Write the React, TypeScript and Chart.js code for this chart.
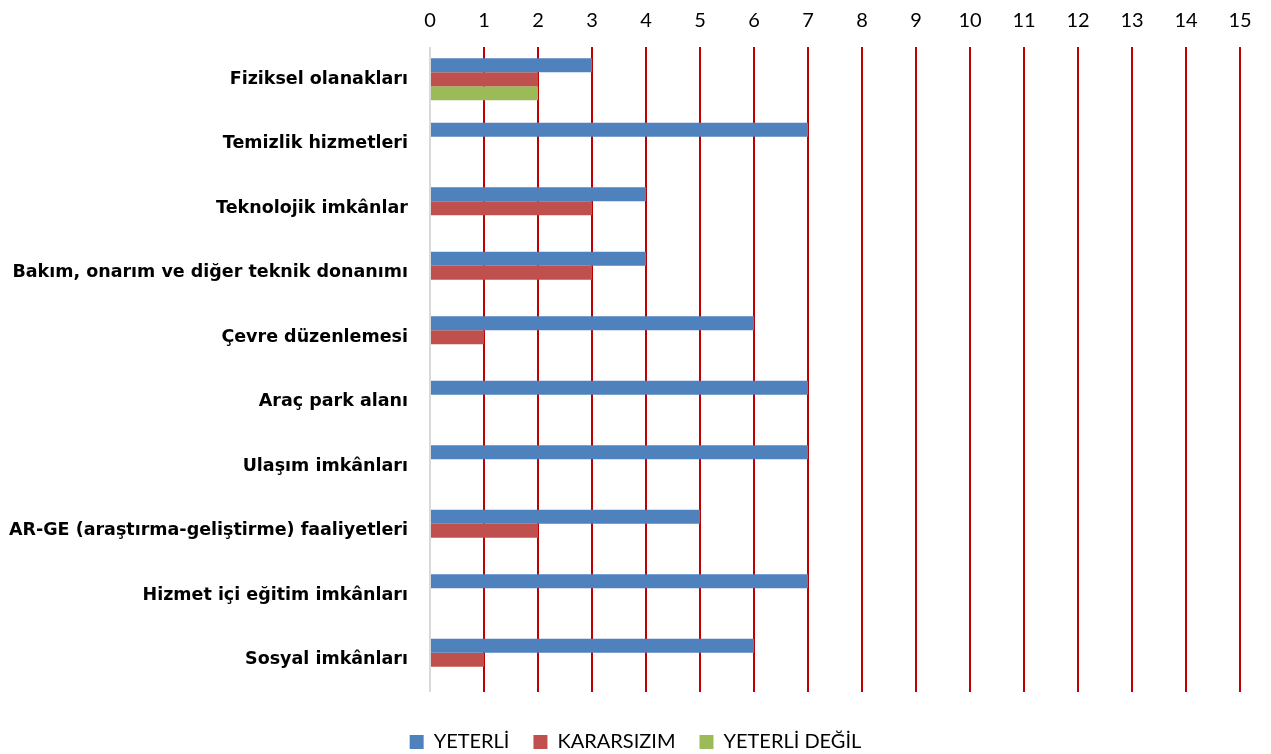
import React, { useEffect, useRef } from "react";
import { Chart, registerables } from "chart.js";

Chart.register(...registerables);

const categories = [
  "Fiziksel olanakları",
  "Temizlik hizmetleri",
  "Teknolojik imkânlar",
  "Bakım, onarım ve diğer teknik donanımı",
  "Çevre düzenlemesi",
  "Araç park alanı",
  "Ulaşım imkânları",
  "AR-GE (araştırma-geliştirme) faaliyetleri",
  "Hizmet içi eğitim imkânları",
  "Sosyal imkânları",
];
const yeterli = [3, 7, 4, 4, 6, 7, 7, 5, 7, 6];
const kararsizim = [2, 0, 3, 3, 1, 0, 0, 2, 0, 1];
const yeterliDegil = [2, 0, 0, 0, 0, 0, 0, 0, 0, 0];
const seriesNames = ["YETERLİ", "KARARSIZIM", "YETERLİ DEĞİL"];
const xMin = 0;
const xMax = 15;

export default function App() {
  const ref = useRef<HTMLCanvasElement | null>(null);
  useEffect(() => {
    document.body.style.margin = "0";
    const ctx = ref.current!;
    const font = "Lato, 'Open Sans', sans-serif";
    const chart = new Chart(ctx, {
      type: "bar",
      data: {
        labels: categories,
        datasets: [
          { label: seriesNames[0], data: yeterli, backgroundColor: "#4F81BD" },
          { label: seriesNames[1], data: kararsizim, backgroundColor: "#C0504D" },
          { label: seriesNames[2], data: yeterliDegil, backgroundColor: "#9BBB59" },
        ],
      },
      options: {
        indexAxis: "y",
        animation: false,
        responsive: false,
        maintainAspectRatio: false,
        datasets: { bar: { categoryPercentage: 0.65, barPercentage: 1, borderWidth: 0 } },
        layout: { padding: { left: 0, right: 0, top: 0, bottom: -8 } },
        scales: {
          x: {
            position: "top",
            min: xMin,
            max: xMax,
            ticks: { stepSize: 1, color: "#000", font: { family: font, size: 20 }, padding: 14 },
            grid: {
              drawTicks: false,
              lineWidth: 2,
              color: (c: any) => (c.tick && c.tick.value === 0 ? "#D9D9D9" : "#C00000"),
            },
            border: { display: false },
            afterFit: (s: any) => {
              s.height = 47;
              s.paddingRight = 31;
            },
          },
          y: {
            ticks: {
              color: "#000",
              font: { family: "'DejaVu Sans', sans-serif", size: 17.5, weight: "bold" },
              padding: 22,
            },
            grid: { display: false, drawTicks: false },
            border: { display: false },
            afterFit: (s: any) => {
              s.width = 430;
            },
          },
        },
        plugins: {
          legend: {
            position: "bottom",
            title: { display: true, text: " ", font: { size: 11 }, padding: 1.4 },
            labels: {
              color: "#000",
              font: { family: font, size: 20 },
              boxWidth: 14,
              boxHeight: 14,
              padding: 24,
            },
          },
          tooltip: { enabled: false },
        },
      },
    });
    return () => chart.destroy();
  }, []);
  return (
    <div style={{ width: 1271, height: 754 }}>
      <canvas ref={ref} width={1271} height={754} style={{ display: "block" }} />
    </div>
  );
}
